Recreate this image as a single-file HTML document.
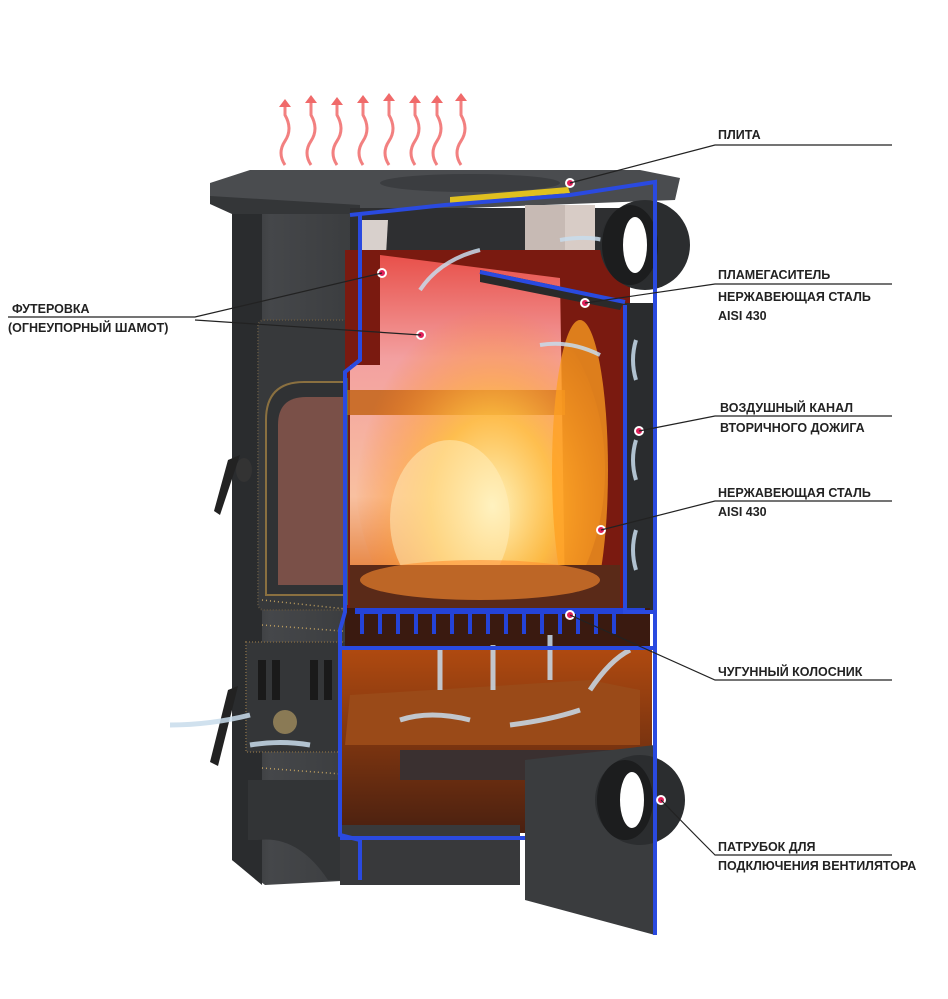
<!DOCTYPE html>
<html><head><meta charset="utf-8"><style>
html,body{margin:0;padding:0;background:#fff;}
svg{display:block}
text{font-family:"Liberation Sans",Arial,sans-serif;font-weight:bold;font-size:12.5px;fill:#222;}
</style></head><body>
<svg width="948" height="999" viewBox="0 0 948 999" xmlns="http://www.w3.org/2000/svg">
<defs>
<linearGradient id="fire" x1="0" y1="0" x2="0" y2="1">
<stop offset="0" stop-color="#e8504a"/><stop offset="0.3" stop-color="#f3a0a0"/><stop offset="0.7" stop-color="#f8c0a0"/><stop offset="1" stop-color="#e07020"/></linearGradient>
<radialGradient id="flame" cx="0.55" cy="0.6" r="0.55">
<stop offset="0" stop-color="#fff4c0"/><stop offset="0.45" stop-color="#ffc040" stop-opacity="0.85"/><stop offset="1" stop-color="#ff8020" stop-opacity="0"/></radialGradient>
<linearGradient id="ash" x1="0" y1="0" x2="0" y2="1">
<stop offset="0" stop-color="#b04a10"/><stop offset="1" stop-color="#4a2010"/></linearGradient>
<linearGradient id="body" x1="0" y1="0" x2="1" y2="0">
<stop offset="0" stop-color="#2e3032"/><stop offset="0.3" stop-color="#45474a"/><stop offset="1" stop-color="#3a3c3e"/></linearGradient>
</defs>

<g stroke="#f06a6a" stroke-width="3" fill="none" opacity="0.85">
<path d="M285 165 q-8 -12 0 -24 q8 -12 0 -26 v-10"/>
<path d="M311 165 q-8 -12 0 -24 q8 -12 0 -26 v-14"/>
<path d="M337 165 q-8 -12 0 -24 q8 -12 0 -26 v-12"/>
<path d="M363 165 q-8 -12 0 -24 q8 -12 0 -26 v-14"/>
<path d="M389 165 q-8 -12 0 -24 q8 -12 0 -26 v-16"/>
<path d="M415 165 q-8 -12 0 -24 q8 -12 0 -26 v-14"/>
<path d="M437 165 q-8 -12 0 -24 q8 -12 0 -26 v-14"/>
<path d="M461 165 q-8 -12 0 -24 q8 -12 0 -26 v-16"/>
</g>
<g fill="#f06a6a">
<path d="M279 107 l6 -8 l6 8z"/><path d="M305 103 l6 -8 l6 8z"/><path d="M331 105 l6 -8 l6 8z"/><path d="M357 103 l6 -8 l6 8z"/><path d="M383 101 l6 -8 l6 8z"/><path d="M409 103 l6 -8 l6 8z"/><path d="M431 103 l6 -8 l6 8z"/><path d="M455 101 l6 -8 l6 8z"/>
</g>

<polygon points="232,200 360,205 360,880 265,885 232,860" fill="url(#body)"/>
<polygon points="232,200 262,200 262,885 232,860" fill="#2a2c2e"/>
<polygon points="210,183 250,170 640,170 680,178 675,200 360,212 232,212 210,200" fill="#4a4c4f"/>
<polygon points="210,196 360,205 360,214 232,214 210,204" fill="#343638"/>
<ellipse cx="470" cy="183" rx="90" ry="9" fill="#3b3d40"/>
<polygon points="450,197 568,187 570,193 450,203" fill="#e0c020"/>
<rect x="258" y="320" width="95" height="290" rx="6" fill="#37393b" stroke="#5a5040" stroke-width="2" stroke-dasharray="1,2"/>
<path d="M266 595 V420 q0 -38 38 -38 h45 v213z" fill="#303234" stroke="#8a7040" stroke-width="2"/>
<path d="M278 585 V425 q0 -28 28 -28 h40 v188z" fill="#7a5048"/>
<path d="M228 460 l12 -5 l-20 60 l-6 -4z" fill="#222"/>
<ellipse cx="244" cy="470" rx="8" ry="12" fill="#333"/>
<rect x="246" y="642" width="105" height="110" fill="#343638" stroke="#6a5a40" stroke-width="2" stroke-dasharray="1,2"/>
<g fill="#1a1a1a"><rect x="258" y="660" width="8" height="40"/><rect x="272" y="660" width="8" height="40"/><rect x="310" y="660" width="8" height="40"/><rect x="324" y="660" width="8" height="40"/></g>
<circle cx="285" cy="722" r="12" fill="#8a7a55"/>
<path d="M228 690 l10 -4 l-20 80 l-8 -4z" fill="#222"/>
<path d="M248 780 h110 v100 h-30 q-30 -45 -70 -40 h-10z" fill="#323436"/>
<g stroke="#c0a060" stroke-width="1.5" stroke-dasharray="1,3"><line x1="262" y1="600" x2="355" y2="610"/><line x1="262" y1="625" x2="355" y2="632"/><line x1="262" y1="768" x2="355" y2="775"/></g>

<rect x="350" y="208" width="305" height="45" fill="#2e2f31"/>
<polygon points="362,220 388,220 380,360 362,360" fill="#d8d0cc"/>
<rect x="525" y="205" width="70" height="85" fill="#d8ccc6"/>
<rect x="525" y="205" width="40" height="85" fill="#c7bab4"/>
<rect x="345" y="250" width="285" height="360" fill="#7a1a10"/>
<polygon points="380,255 560,278 565,600 350,600 350,365 380,365" fill="url(#fire)"/>
<rect x="345" y="390" width="220" height="25" fill="#c06010" opacity="0.8"/>
<ellipse cx="480" cy="470" rx="125" ry="180" fill="url(#flame)"/>
<ellipse cx="580" cy="470" rx="28" ry="150" fill="#ffa020" opacity="0.75"/>
<ellipse cx="450" cy="520" rx="60" ry="80" fill="#fff0c0" opacity="0.5"/>
<polygon points="480,270 625,300 620,310 480,282" fill="#2a2a2a"/>
<rect x="350" y="565" width="270" height="45" fill="#5a2a18"/>
<ellipse cx="480" cy="580" rx="120" ry="20" fill="#ff9030" opacity="0.6"/>
<line x1="346" y1="378" x2="346" y2="605" stroke="#20a080" stroke-width="3"/>
<rect x="623" y="303" width="30" height="310" fill="#2a2c2e"/>
<g stroke="#c8dcec" stroke-width="4" fill="none" opacity="0.85">
<path d="M636 380 q-6 -20 0 -40"/><path d="M636 480 q-6 -20 0 -40"/><path d="M636 570 q-6 -20 0 -40"/>
<path d="M420 290 q20 -30 60 -40"/><path d="M560 240 q30 -5 50 2"/><path d="M540 345 q30 -5 60 10"/>
</g>
<ellipse cx="645" cy="245" rx="45" ry="45" fill="#2b2d2f"/>
<ellipse cx="630" cy="245" rx="28" ry="40" fill="#1c1d1e"/>
<ellipse cx="635" cy="245" rx="12" ry="28" fill="#fff"/>
<rect x="345" y="608" width="305" height="40" fill="#3a1a10"/>
<g fill="#2443d8"><rect x="355" y="608" width="290" height="6"/>
<rect x="360" y="612" width="4" height="22"/><rect x="378" y="612" width="4" height="22"/><rect x="396" y="612" width="4" height="22"/><rect x="414" y="612" width="4" height="22"/><rect x="432" y="612" width="4" height="22"/><rect x="450" y="612" width="4" height="22"/><rect x="468" y="612" width="4" height="22"/><rect x="486" y="612" width="4" height="22"/><rect x="504" y="612" width="4" height="22"/><rect x="522" y="612" width="4" height="22"/><rect x="540" y="612" width="4" height="22"/><rect x="558" y="612" width="4" height="22"/><rect x="576" y="612" width="4" height="22"/><rect x="594" y="612" width="4" height="22"/><rect x="612" y="612" width="4" height="22"/></g>
<rect x="340" y="648" width="312" height="185" fill="url(#ash)"/>
<polygon points="350,695 590,680 640,690 640,745 345,745" fill="#9a4a18"/>
<rect x="400" y="750" width="240" height="30" fill="#3a3030"/>
<g stroke="#c8dcec" stroke-width="5" fill="none" opacity="0.85">
<path d="M440 690 v-40"/><path d="M493 690 v-45"/><path d="M550 680 v-45"/><path d="M590 690 q20 -30 40 -40"/>
<path d="M400 720 q30 -10 70 0"/><path d="M510 725 q40 -5 70 -15"/><path d="M170 725 q40 0 80 -10"/><path d="M250 745 q30 -5 60 0"/>
</g>
<polygon points="525,760 655,745 655,935 525,900" fill="#3a3c3e"/>
<rect x="340" y="825" width="180" height="60" fill="#38393b"/>
<ellipse cx="640" cy="800" rx="45" ry="45" fill="#2b2d2f"/>
<ellipse cx="625" cy="800" rx="28" ry="40" fill="#1c1d1e"/>
<ellipse cx="632" cy="800" rx="12" ry="28" fill="#fff"/>
<g stroke="#2a4ae0" stroke-width="4" fill="none">
<path d="M350 215 L445 205 L570 195 L655 182 V935"/>
<path d="M360 215 V360 L345 372 V612 L340 630 V835 L360 840 V880"/>
<path d="M480 272 L625 302"/><path d="M625 305 V612 L655 612"/>
<path d="M340 648 H655"/><path d="M340 838 H525"/>
</g>
<g fill="#e0205a" stroke="#fff" stroke-width="2">
<circle cx="570" cy="183" r="4"/><circle cx="382" cy="273" r="4"/><circle cx="421" cy="335" r="4"/><circle cx="585" cy="303" r="4"/><circle cx="639" cy="431" r="4"/><circle cx="601" cy="530" r="4"/><circle cx="570" cy="615" r="4"/><circle cx="661" cy="800" r="4"/>
</g>
<g stroke="#222" stroke-width="1.2" fill="none">
<path d="M570 183 L715 145 H892"/>
<path d="M585 303 L715 284 H892"/>
<path d="M639 431 L715 416 H892"/>
<path d="M601 530 L715 501 H892"/>
<path d="M570 615 L715 680 H892"/>
<path d="M661 800 Q690 830 715 855 H892"/>
<path d="M382 273 L195 317 H8"/>
<path d="M421 335 L195 320"/>
</g>
<text x="718" y="139">ПЛИТА</text>
<text x="718" y="279">ПЛАМЕГАСИТЕЛЬ</text>
<text x="718" y="301">НЕРЖАВЕЮЩАЯ СТАЛЬ</text>
<text x="718" y="320">AISI 430</text>
<text x="720" y="412">ВОЗДУШНЫЙ КАНАЛ</text>
<text x="720" y="432">ВТОРИЧНОГО ДОЖИГА</text>
<text x="718" y="497">НЕРЖАВЕЮЩАЯ СТАЛЬ</text>
<text x="718" y="516">AISI 430</text>
<text x="718" y="676">ЧУГУННЫЙ КОЛОСНИК</text>
<text x="718" y="851">ПАТРУБОК ДЛЯ</text>
<text x="718" y="870">ПОДКЛЮЧЕНИЯ ВЕНТИЛЯТОРА</text>
<text x="12" y="313">ФУТЕРОВКА</text>
<text x="8" y="332">(ОГНЕУПОРНЫЙ ШАМОТ)</text>
</svg>
</body></html>
